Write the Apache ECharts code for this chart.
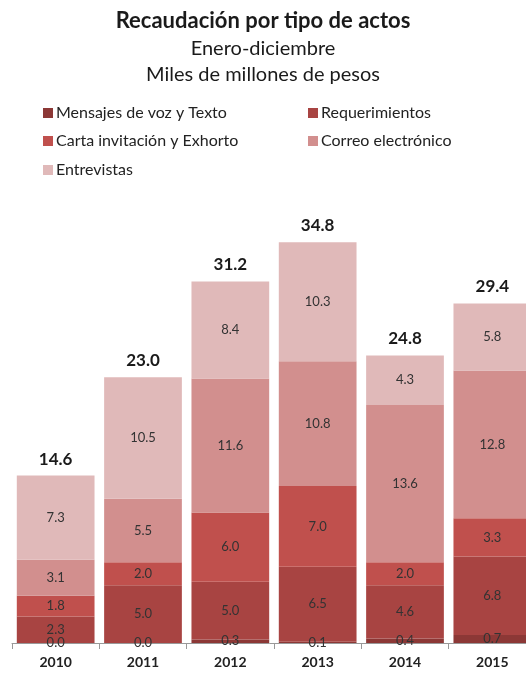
<!DOCTYPE html>
<html>
<head>
    <meta charset="utf-8">
    <title>Recaudación por tipo de actos</title>
    <script src="https://cdn.jsdelivr.net/npm/echarts@6/dist/echarts.min.js"></script>
    <style type="text/css">
        * {
            margin: 0;
            padding: 0;
        }
        html, body {
            background: #fff;
        }
    </style>
</head>
<body>
    <div id="chart" style="width: 526px; height: 673px;"></div>
    <script type="text/javascript">
        // datos (miles de millones de pesos)
        var years = ['2010', '2011', '2012', '2013', '2014', '2015'];
        var mensajes = [0.0, 0.0, 0.3, 0.1, 0.4, 0.7];
        var requerimientos = [2.3, 5.0, 5.0, 6.5, 4.6, 6.8];
        var carta = [1.8, 2.0, 6.0, 7.0, 2.0, 3.3];
        var correo = [3.1, 5.5, 11.6, 10.8, 13.6, 12.8];
        var entrevistas = [7.3, 10.5, 8.4, 10.3, 4.3, 5.8];
        var totals = [14.6, 23.0, 31.2, 34.8, 24.8, 29.4];

        var fontFam = 'Lato, "Open Sans", sans-serif';
        var chart = echarts.init(document.getElementById('chart'));

        function seg(name, data, color) {
            return {
                name: name,
                type: 'bar',
                stack: 'total',
                barWidth: '89%',
                data: data,
                itemStyle: { color: color },
                label: {
                    show: true,
                    position: 'inside',
                    color: '#333',
                    fontSize: 13,
                    fontFamily: fontFam,
                    formatter: function (p) { return p.value.toFixed(1); }
                }
            };
        }

        function legendAt(name, left, top) {
            return {
                data: [name],
                left: left,
                top: top,
                itemWidth: 10,
                itemHeight: 10,
                itemGap: 3,
                icon: 'rect',
                textStyle: { fontSize: 16, color: '#222', fontFamily: fontFam, padding: [0, 0, 0, -2] }
            };
        }

        var option = {
            animation: false,
            backgroundColor: '#fff',
            title: [{
                text: 'Recaudación por tipo de actos',
                left: 'center',
                top: 5,
                textStyle: { fontSize: 22, fontWeight: 'bold', color: '#1a1a1a', fontFamily: fontFam }
            }, {
                text: 'Enero-diciembre\nMiles de millones de pesos',
                left: 'center',
                top: 31,
                textStyle: { fontSize: 20, fontWeight: 'normal', color: '#1a1a1a', lineHeight: 26, fontFamily: fontFam }
            }],
            legend: [
                legendAt('Mensajes de voz y Texto', 38, 100),
                legendAt('Requerimientos', 303, 100),
                legendAt('Carta invitación y Exhorto', 38, 128),
                legendAt('Correo electrónico', 303, 128),
                legendAt('Entrevistas', 38, 157)
            ],
            grid: {
                left: 12,
                width: 524,
                top: 181,
                bottom: 30,
                containLabel: false,
                outerBoundsMode: 'none'
            },
            xAxis: {
                type: 'category',
                data: years,
                axisLine: { lineStyle: { color: '#999' } },
                axisTick: { show: true, length: 6, lineStyle: { color: '#999' } },
                axisLabel: { color: '#222', fontSize: 14, fontWeight: 'bold', fontFamily: fontFam, margin: 12 }
            },
            yAxis: {
                type: 'value',
                min: 0,
                max: 40,
                show: false,
                splitLine: { show: false }
            },
            series: [
                seg('Mensajes de voz y Texto', mensajes, '#8c3836'),
                seg('Requerimientos', requerimientos, '#a84442'),
                seg('Carta invitación y Exhorto', carta, '#c0504d'),
                seg('Correo electrónico', correo, '#d28f8e'),
                seg('Entrevistas', entrevistas, '#e0b9b9'),
                {
                    name: 'Total',
                    type: 'bar',
                    stack: 'total',
                    barWidth: '89%',
                    data: totals.map(function () { return 0; }),
                    itemStyle: { color: 'transparent' },
                    label: {
                        show: true,
                        position: 'top',
                        distance: 8,
                        color: '#1a1a1a',
                        fontSize: 17,
                        fontWeight: 'bold',
                        fontFamily: fontFam,
                        formatter: function (p) { return totals[p.dataIndex].toFixed(1); }
                    }
                }
            ]
        };

        chart.setOption(option);
    </script>
</body>
</html>
